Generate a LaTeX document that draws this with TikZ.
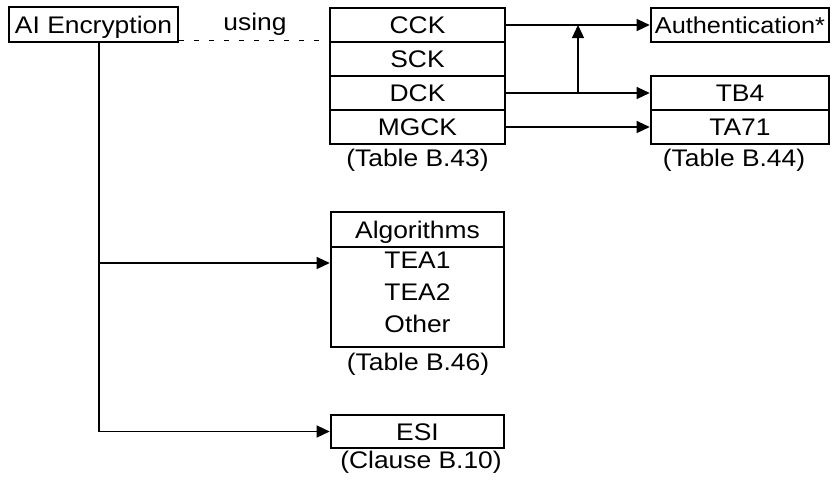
\documentclass[tikz,border=0pt]{standalone}
\usepackage{fontspec}
\setmainfont{Liberation Sans}[FakeStretch=1.1]
\usetikzlibrary{arrows.meta,calc}
\begin{document}
\begin{tikzpicture}[x=1pt,y=-1pt,
  font=\fontsize{24}{28}\selectfont,
  cell/.style={draw, line width=2.6pt, inner sep=0pt, minimum width=173pt, minimum height=34pt, text height=17pt, text depth=0pt},
  conn/.style={line width=1.3pt, -{Triangle[length=13pt,width=12pt]}},
  wire/.style={line width=1.3pt},
  lbl/.style={anchor=base, inner sep=0pt}]
\useasboundingbox (0,0) rectangle (832,482);
% nodes
\node[cell, minimum width=169pt, minimum height=35pt] (ai) at (93.5,24.5) {AI Encryption};
\node[lbl] (using) at (255,30) {using};
\node[cell, minimum width=175pt] (cck) at (417.5,25) {CCK};
\node[cell, minimum width=175pt] (sck) at (417.5,59) {SCK};
\node[cell, minimum width=175pt] (dck) at (417.5,93) {DCK};
\node[cell, minimum width=175pt] (mgck) at (417.5,127) {MGCK};
\node[lbl] (t43) at (417.5,166) {(Table B.43)};
\node[cell, minimum width=178pt, font=\fontsize{23}{27}\selectfont, text height=16.5pt] (auth) at (740,25) {Authentication*};
\node[cell, minimum width=178pt] (tb4) at (740,93) {TB4};
\node[cell, minimum width=178pt] (ta71) at (740,127) {TA71};
\node[lbl] (t44) at (734,166) {(Table B.44)};
\node[cell, minimum height=35pt] (alg) at (417.5,229.5) {Algorithms};
\node[cell, minimum height=100pt] (algbody) at (417.5,297) {};
\node[lbl] (tea1) at (417.5,268) {TEA1};
\node[lbl] (tea2) at (417.5,300) {TEA2};
\node[lbl] (other) at (417.5,332) {Other};
\node[lbl] (t46) at (418,370) {(Table B.46)};
\node[cell, minimum height=33pt] (esi) at (417.5,431.5) {ESI};
\node[lbl] (t10) at (421,468) {(Clause B.10)};
% connectors
\coordinate (v) at (99,0);
\draw[wire, dash pattern=on 5pt off 10pt] ([yshift=2.5pt]ai.south east) -- ([yshift=2.5pt]cck.south west);
\draw[conn] (cck.east) -- (auth.west);
\draw[conn] (dck.east) -- (tb4.west);
\draw[conn] (mgck.east) -- (ta71.west);
\coordinate (j) at (578,93);
\draw[conn] (j) -- (j |- cck.east);
\draw[conn] (ai.south -| v) |- (esi.west);
\coordinate (b) at (99,263);
\draw[conn] (b) -- (b -| algbody.west);
\end{tikzpicture}
\end{document}
